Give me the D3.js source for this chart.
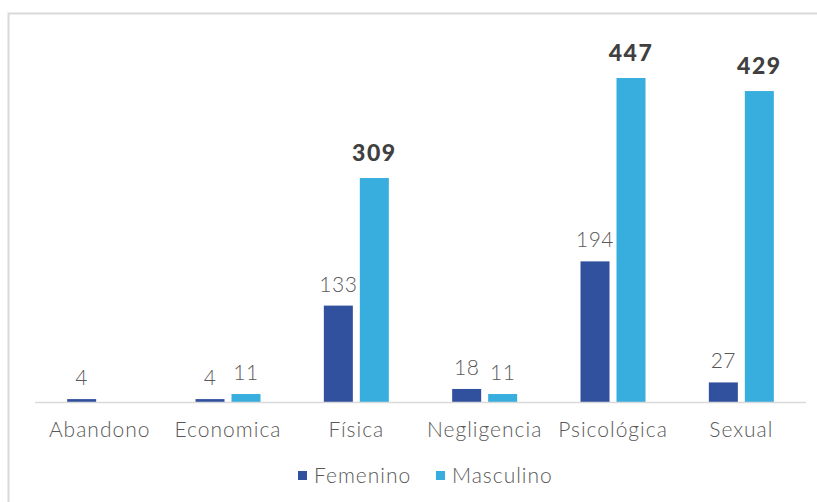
<!DOCTYPE html>
<html><head><meta charset="utf-8">
<script src="https://cdn.jsdelivr.net/npm/d3@7"></script>
<style>body{margin:0;background:#fff;} svg{display:block;font-family:Lato,"Open Sans",sans-serif;}</style>
</head><body>
<svg id="c" width="817" height="502"></svg>
<script>
const categories = ["Abandono","Economica","Física","Negligencia","Psicológica","Sexual"];
const seriesNames = ["Femenino","Masculino"];
const femenino = [4,4,133,18,194,27];
const masculino = [null,11,309,11,447,429];
const boldLabel = [[false,false,false,false,false,false],[false,false,true,false,true,true]];
const colors = ["#31509E","#38AEDE"];

const svg = d3.select("#c");
svg.append("rect").attr("x",8.5).attr("y",13.5).attr("width",830).attr("height",520)
  .attr("fill","none").attr("stroke","#d9d9d9").attr("stroke-width",2);

const x0 = d3.scaleBand().domain(categories).range([35.5,805.5]).paddingInner(0).paddingOuter(0);
const x1 = d3.scaleBand().domain(seriesNames).range([0,x0.bandwidth()]).paddingInner(0.194).paddingOuter(0.88);
const y = d3.scaleLinear().domain([0,447]).range([402,78]);

const data = [femenino, masculino];
seriesNames.forEach((s,si)=>{
  const g = svg.append("g");
  categories.forEach((c,ci)=>{
    const v = data[si][ci];
    if(v==null) return;
    const bx = x0(c)+x1(s);
    g.append("rect").attr("x",bx).attr("y",y(v)).attr("width",x1.bandwidth()).attr("height",402-y(v))
      .attr("fill",colors[si]);
    const bold = boldLabel[si][ci];
    g.append("text").attr("x",bx+x1.bandwidth()/2).attr("y",y(v)-(bold?17:14))
      .attr("text-anchor","middle")
      .attr("font-size",bold?23:21)
      .attr("font-weight",bold?900:300)
      .attr("letter-spacing",bold?1.5:0.5)
      .attr("fill",bold?"#404040":"#595959")
      .text(v);
  });
});

// axis line
svg.append("line").attr("x1",35).attr("x2",806).attr("y1",402.5).attr("y2",402.5)
  .attr("stroke","#d9d9d9").attr("stroke-width",1.5);

const xAxis = d3.axisBottom(x0).tickSize(0).tickPadding(0);
const ax = svg.append("g").attr("transform","translate(0,402)").call(xAxis);
ax.select(".domain").remove();
ax.selectAll("text").attr("font-size",21).attr("font-weight",300).attr("fill","#595959")
  .attr("letter-spacing",1)
  .attr("font-family","Lato,'Open Sans',sans-serif").attr("dy",null).attr("y",35);

// legend
const leg = [{name:"Femenino",x:298},{name:"Masculino",x:436}];
leg.forEach((l,i)=>{
  svg.append("rect").attr("x",l.x).attr("y",471).attr("width",9).attr("height",9).attr("fill",colors[i]);
  svg.append("text").attr("x",l.x+16).attr("y",483).attr("font-size",21).attr("font-weight",300)
    .attr("letter-spacing",1).attr("fill","#595959").text(l.name);
});
</script>
</body></html>
